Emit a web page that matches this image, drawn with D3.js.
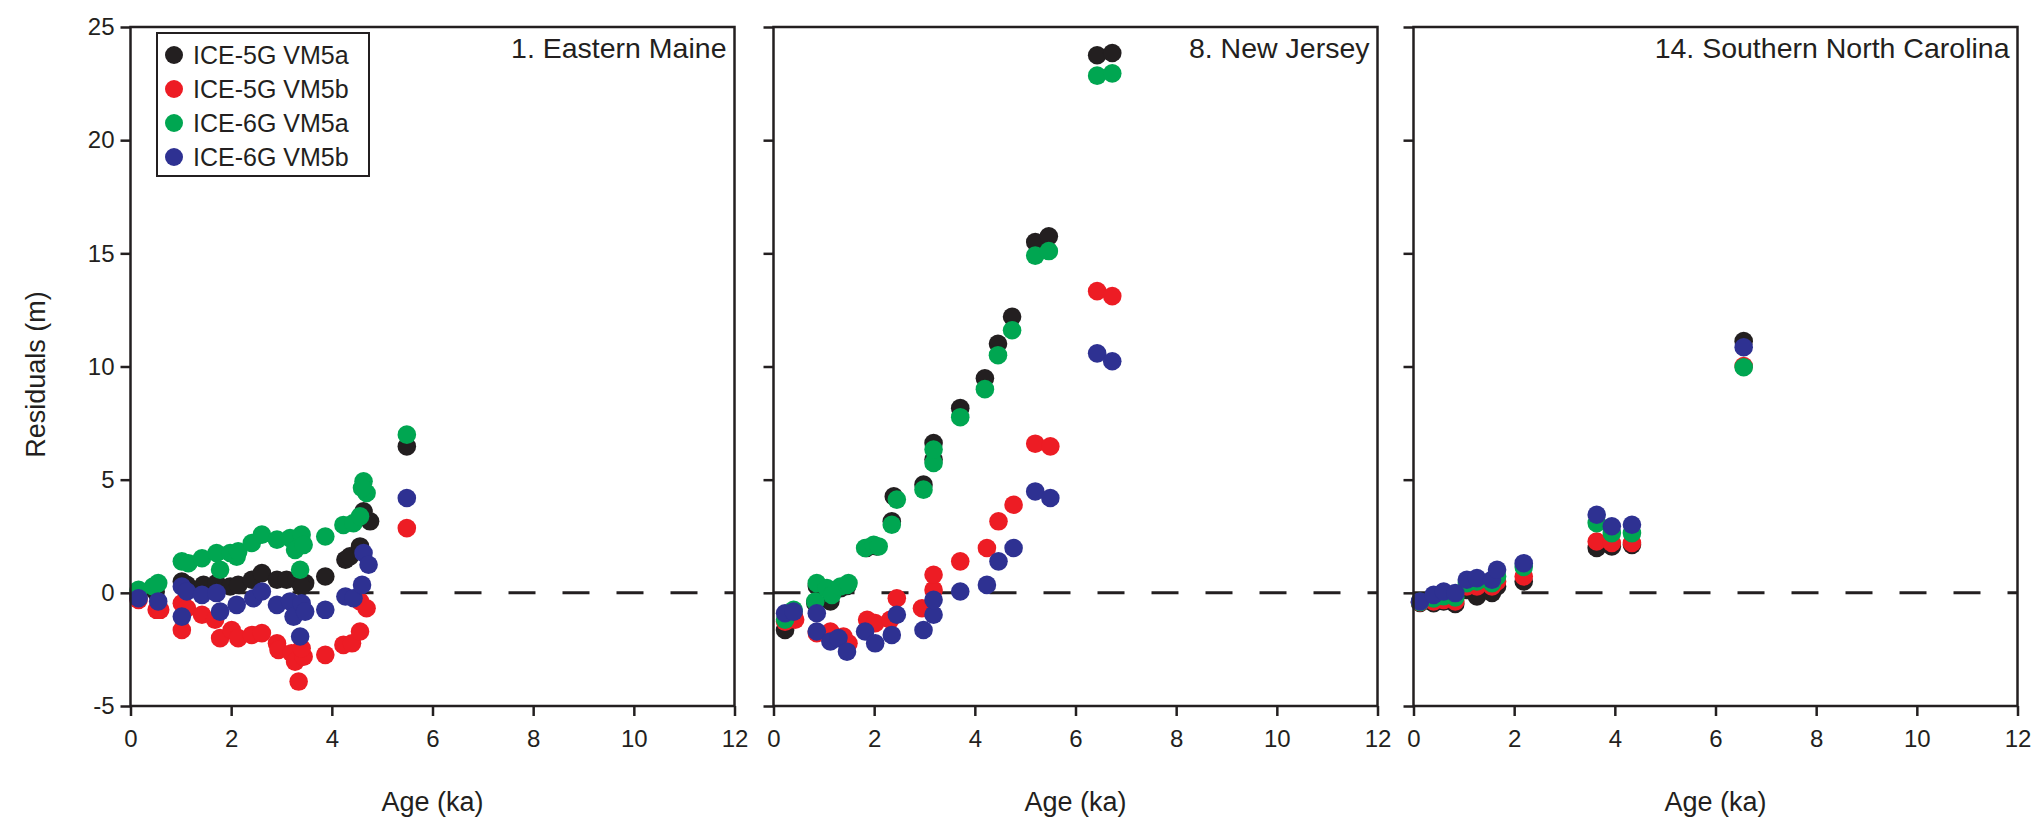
<!DOCTYPE html>
<html>
<head>
<meta charset="utf-8">
<script src="https://cdn.jsdelivr.net/npm/d3@7"></script>
<style>
  body { margin: 0; background: #fff; }
  svg { display: block; font-family: "Liberation Sans", Arial, sans-serif; }
  .tick text { font-size: 24px; fill: #231f20; }
  .tick line, .domain { stroke: #231f20; stroke-width: 2.5; }
</style>
</head>
<body>
<div id="chart"></div>
<script>
// series names + colours
const seriesNames = ["ICE-5G VM5a", "ICE-5G VM5b", "ICE-6G VM5a", "ICE-6G VM5b"];
const seriesColors = ["#231f20", "#ed1c24", "#00a651", "#2e3192"];
const panelTitles = ["1. Eastern Maine", "8. New Jersey", "14. Southern North Carolina"];
const xTicks = [0, 2, 4, 6, 8, 10, 12];
const yTicks = [-5, 0, 5, 10, 15, 20, 25];

// 1. Eastern Maine  [age ka, residual m]
const maine5a = [[0.16,-0.09],[0.5,0.05],[1.02,0.5],[1.12,0.35],[1.45,0.35],[1.71,0.43],[1.98,0.28],[2.14,0.35],[2.41,0.58],[2.61,0.87],[2.91,0.58],[3.1,0.58],[3.3,0.58],[3.47,0.43],[3.4,0.28],[3.87,0.72],[4.27,1.46],[4.36,1.61],[4.56,2.05],[4.63,3.6],[4.76,3.16],[5.49,6.47]];
const maine5b = [[0.16,-0.31],[0.52,-0.75],[0.59,-0.75],[1.02,-0.46],[1.02,-1.64],[1.12,-0.68],[1.42,-0.97],[1.68,-1.19],[1.78,-2.0],[2.01,-1.64],[2.14,-2.0],[2.41,-1.86],[2.61,-1.78],[2.91,-2.23],[2.94,-2.52],[3.2,-2.67],[3.27,-3.04],[3.44,-2.82],[3.4,-2.45],[3.34,-3.92],[3.87,-2.74],[4.23,-2.3],[4.4,-2.23],[4.56,-1.71],[4.56,-0.38],[4.69,-0.68],[5.49,2.86]];
const maine6a = [[0.16,0.13],[0.45,0.28],[0.55,0.43],[1.02,1.39],[1.15,1.31],[1.42,1.53],[1.71,1.76],[1.78,1.02],[1.98,1.76],[2.11,1.6],[2.14,1.83],[2.41,2.2],[2.61,2.57],[2.91,2.35],[3.17,2.42],[3.27,1.9],[3.4,2.57],[3.44,2.12],[3.37,1.02],[3.87,2.49],[4.23,3.0],[4.43,3.08],[4.56,3.38],[4.63,4.93],[4.69,4.41],[4.6,4.63],[5.49,6.99]];
const maine6b = [[0.16,-0.24],[0.55,-0.38],[1.02,0.28],[1.02,-1.05],[1.12,0.06],[1.42,-0.09],[1.71,-0.01],[1.78,-0.83],[2.11,-0.53],[2.44,-0.24],[2.61,0.06],[2.91,-0.53],[3.17,-0.38],[3.24,-1.05],[3.4,-0.46],[3.47,-0.83],[3.37,-1.93],[3.87,-0.75],[4.27,-0.16],[4.43,-0.24],[4.6,0.35],[4.63,1.76],[4.73,1.24],[5.49,4.19]];

// 8. New Jersey
const jersey5a = [[0.23,-1.64],[0.4,-1.0],[0.83,-0.45],[0.86,0.3],[1.13,-0.38],[1.16,0.1],[1.33,0.2],[1.46,0.3],[1.85,1.98],[2.05,2.05],[2.35,3.16],[2.39,4.26],[2.98,4.78],[3.18,5.89],[3.18,6.62],[3.71,8.16],[4.2,9.48],[4.46,11.0],[4.74,12.2],[5.2,15.5],[5.47,15.75],[6.43,23.75],[6.73,23.85]];
const jersey5b = [[0.23,-1.27],[0.43,-1.19],[0.86,-1.78],[1.13,-1.71],[1.39,-1.93],[1.49,-2.23],[1.86,-1.19],[2.02,-1.34],[2.32,-1.19],[2.45,-0.24],[2.95,-0.68],[3.18,0.13],[3.18,0.8],[3.71,1.39],[4.24,1.98],[4.47,3.16],[4.77,3.89],[5.2,6.59],[5.5,6.47],[6.43,13.33],[6.73,13.11]];
const jersey6a = [[0.23,-1.19],[0.4,-0.75],[0.83,-0.38],[0.86,0.43],[1.06,0.21],[1.16,-0.09],[1.33,0.28],[1.46,0.35],[1.49,0.43],[1.82,1.98],[1.99,2.12],[2.09,2.05],[2.35,3.01],[2.45,4.12],[2.98,4.56],[3.18,5.74],[3.18,6.33],[3.71,7.76],[4.2,9.0],[4.46,10.5],[4.74,11.6],[5.2,14.9],[5.47,15.1],[6.43,22.85],[6.73,22.95]];
const jersey6b = [[0.23,-0.9],[0.4,-0.83],[0.86,-0.9],[0.86,-1.71],[1.13,-2.15],[1.29,-2.0],[1.46,-2.6],[1.82,-1.71],[2.02,-2.23],[2.35,-1.86],[2.45,-0.97],[2.98,-1.64],[3.18,-0.97],[3.18,-0.31],[3.71,0.06],[4.24,0.35],[4.47,1.39],[4.77,1.98],[5.2,4.48],[5.5,4.19],[6.43,10.58],[6.73,10.23]];

// 14. Southern North Carolina
const carolina5a = [[0.13,-0.45],[0.4,-0.46],[0.6,-0.38],[0.83,-0.49],[1.06,0.13],[1.26,-0.16],[1.56,0.0],[1.66,0.28],[2.19,0.5],[3.64,1.98],[3.94,2.05],[4.34,2.12],[6.56,11.12]];
const carolina5b = [[0.13,-0.42],[0.4,-0.38],[0.6,-0.31],[0.83,-0.38],[1.06,0.28],[1.26,0.28],[1.56,0.28],[1.66,0.5],[2.19,0.72],[3.64,2.27],[3.94,2.2],[4.34,2.2],[6.56,10.02]];
const carolina6a = [[0.13,-0.4],[0.4,-0.25],[0.6,-0.15],[0.83,-0.2],[1.06,0.43],[1.26,0.5],[1.56,0.43],[1.66,0.72],[2.19,1.14],[3.64,3.08],[3.94,2.64],[4.34,2.64],[6.56,9.97]];
const carolina6b = [[0.13,-0.38],[0.4,-0.09],[0.6,0.06],[0.83,-0.01],[1.06,0.58],[1.26,0.65],[1.56,0.58],[1.66,1.02],[2.19,1.31],[3.64,3.45],[3.94,2.94],[4.34,3.01],[6.56,10.85]];

const panels = [
    [maine5a, maine5b, maine6a, maine6b],
    [jersey5a, jersey5b, jersey6a, jersey6b],
    [carolina5a, carolina5b, carolina6a, carolina6b]
];

const width = 2040, height = 821;
const panelLeft = [130.5, 773.5, 1413.5];
const panelWidth = 604;
const plotTop = 27, plotBottom = 706;
const ink = "#231f20";

var svg = d3.select("#chart").append("svg")
    .attr("width", width)
    .attr("height", height);

var yScale = d3.scaleLinear()
    .domain([-5, 25])
    .range([plotBottom, plotTop]);

panels.forEach(function (series, p) {
    var xScale = d3.scaleLinear()
        .domain([0, 12])
        .range([panelLeft[p], panelLeft[p] + panelWidth]);

    var g = svg.append("g");

    // zero reference line
    g.append("line")
        .attr("x1", xScale(0)).attr("x2", xScale(12))
        .attr("y1", yScale(0)).attr("y2", yScale(0))
        .attr("stroke", ink)
        .attr("stroke-width", 3)
        .attr("stroke-dasharray", "27,27");

    // points, drawn in series order so blue ends on top
    series.forEach(function (pts, s) {
        g.append("g").selectAll("circle")
            .data(pts)
            .enter().append("circle")
            .attr("cx", d => xScale(d[0]))
            .attr("cy", d => yScale(d[1]))
            .attr("r", 9.3)
            .attr("fill", seriesColors[s]);
    });

    // frame
    g.append("rect")
        .attr("x", xScale(0)).attr("y", plotTop)
        .attr("width", panelWidth).attr("height", plotBottom - plotTop)
        .attr("fill", "none")
        .attr("stroke", ink)
        .attr("stroke-width", 2.5);

    var xAxis = d3.axisBottom(xScale)
        .tickValues(xTicks)
        .tickFormat(d => String(d))
        .tickSize(10)
        .tickPadding(14)
        .tickSizeOuter(0);

    // plain hyphen for negatives, like the original
    var yAxis = d3.axisLeft(yScale)
        .tickValues(yTicks)
        .tickFormat(d => p > 0 ? "" : String(d))
        .tickSize(10)
        .tickPadding(6)
        .tickSizeOuter(0);

    g.append("g")
        .attr("class", "x-axis")
        .attr("transform", "translate(0," + plotBottom + ")")
        .call(xAxis);

    g.append("g")
        .attr("class", "y-axis")
        .attr("transform", "translate(" + xScale(0) + ",0)")
        .call(yAxis);

    g.selectAll(".domain").remove();

    g.append("text")
        .attr("x", xScale(12) - 8)
        .attr("y", 58)
        .attr("text-anchor", "end")
        .attr("font-size", 28.5)
        .attr("fill", ink)
        .text(panelTitles[p]);

    g.append("text")
        .attr("x", xScale(6))
        .attr("y", 811)
        .attr("text-anchor", "middle")
        .attr("font-size", 27)
        .attr("fill", ink)
        .text("Age (ka)");
});

svg.append("text")
    .attr("transform", "translate(45," + ((plotTop + plotBottom) / 2 + 8) + ") rotate(-90)")
    .attr("text-anchor", "middle")
    .attr("font-size", 27)
    .attr("fill", ink)
    .text("Residuals (m)");

// legend
var legend = svg.append("g");
legend.append("rect")
    .attr("x", 157).attr("y", 33)
    .attr("width", 212).attr("height", 143)
    .attr("fill", "#fff")
    .attr("stroke", ink)
    .attr("stroke-width", 2);

seriesNames.forEach(function (name, i) {
    var cy = 55 + i * 34;
    legend.append("circle")
        .attr("cx", 174).attr("cy", cy).attr("r", 9)
        .attr("fill", seriesColors[i]);
    legend.append("text")
        .attr("x", 193).attr("y", cy + 9)
        .attr("font-size", 25)
        .attr("fill", ink)
        .text(name);
});
</script>
</body>
</html>
